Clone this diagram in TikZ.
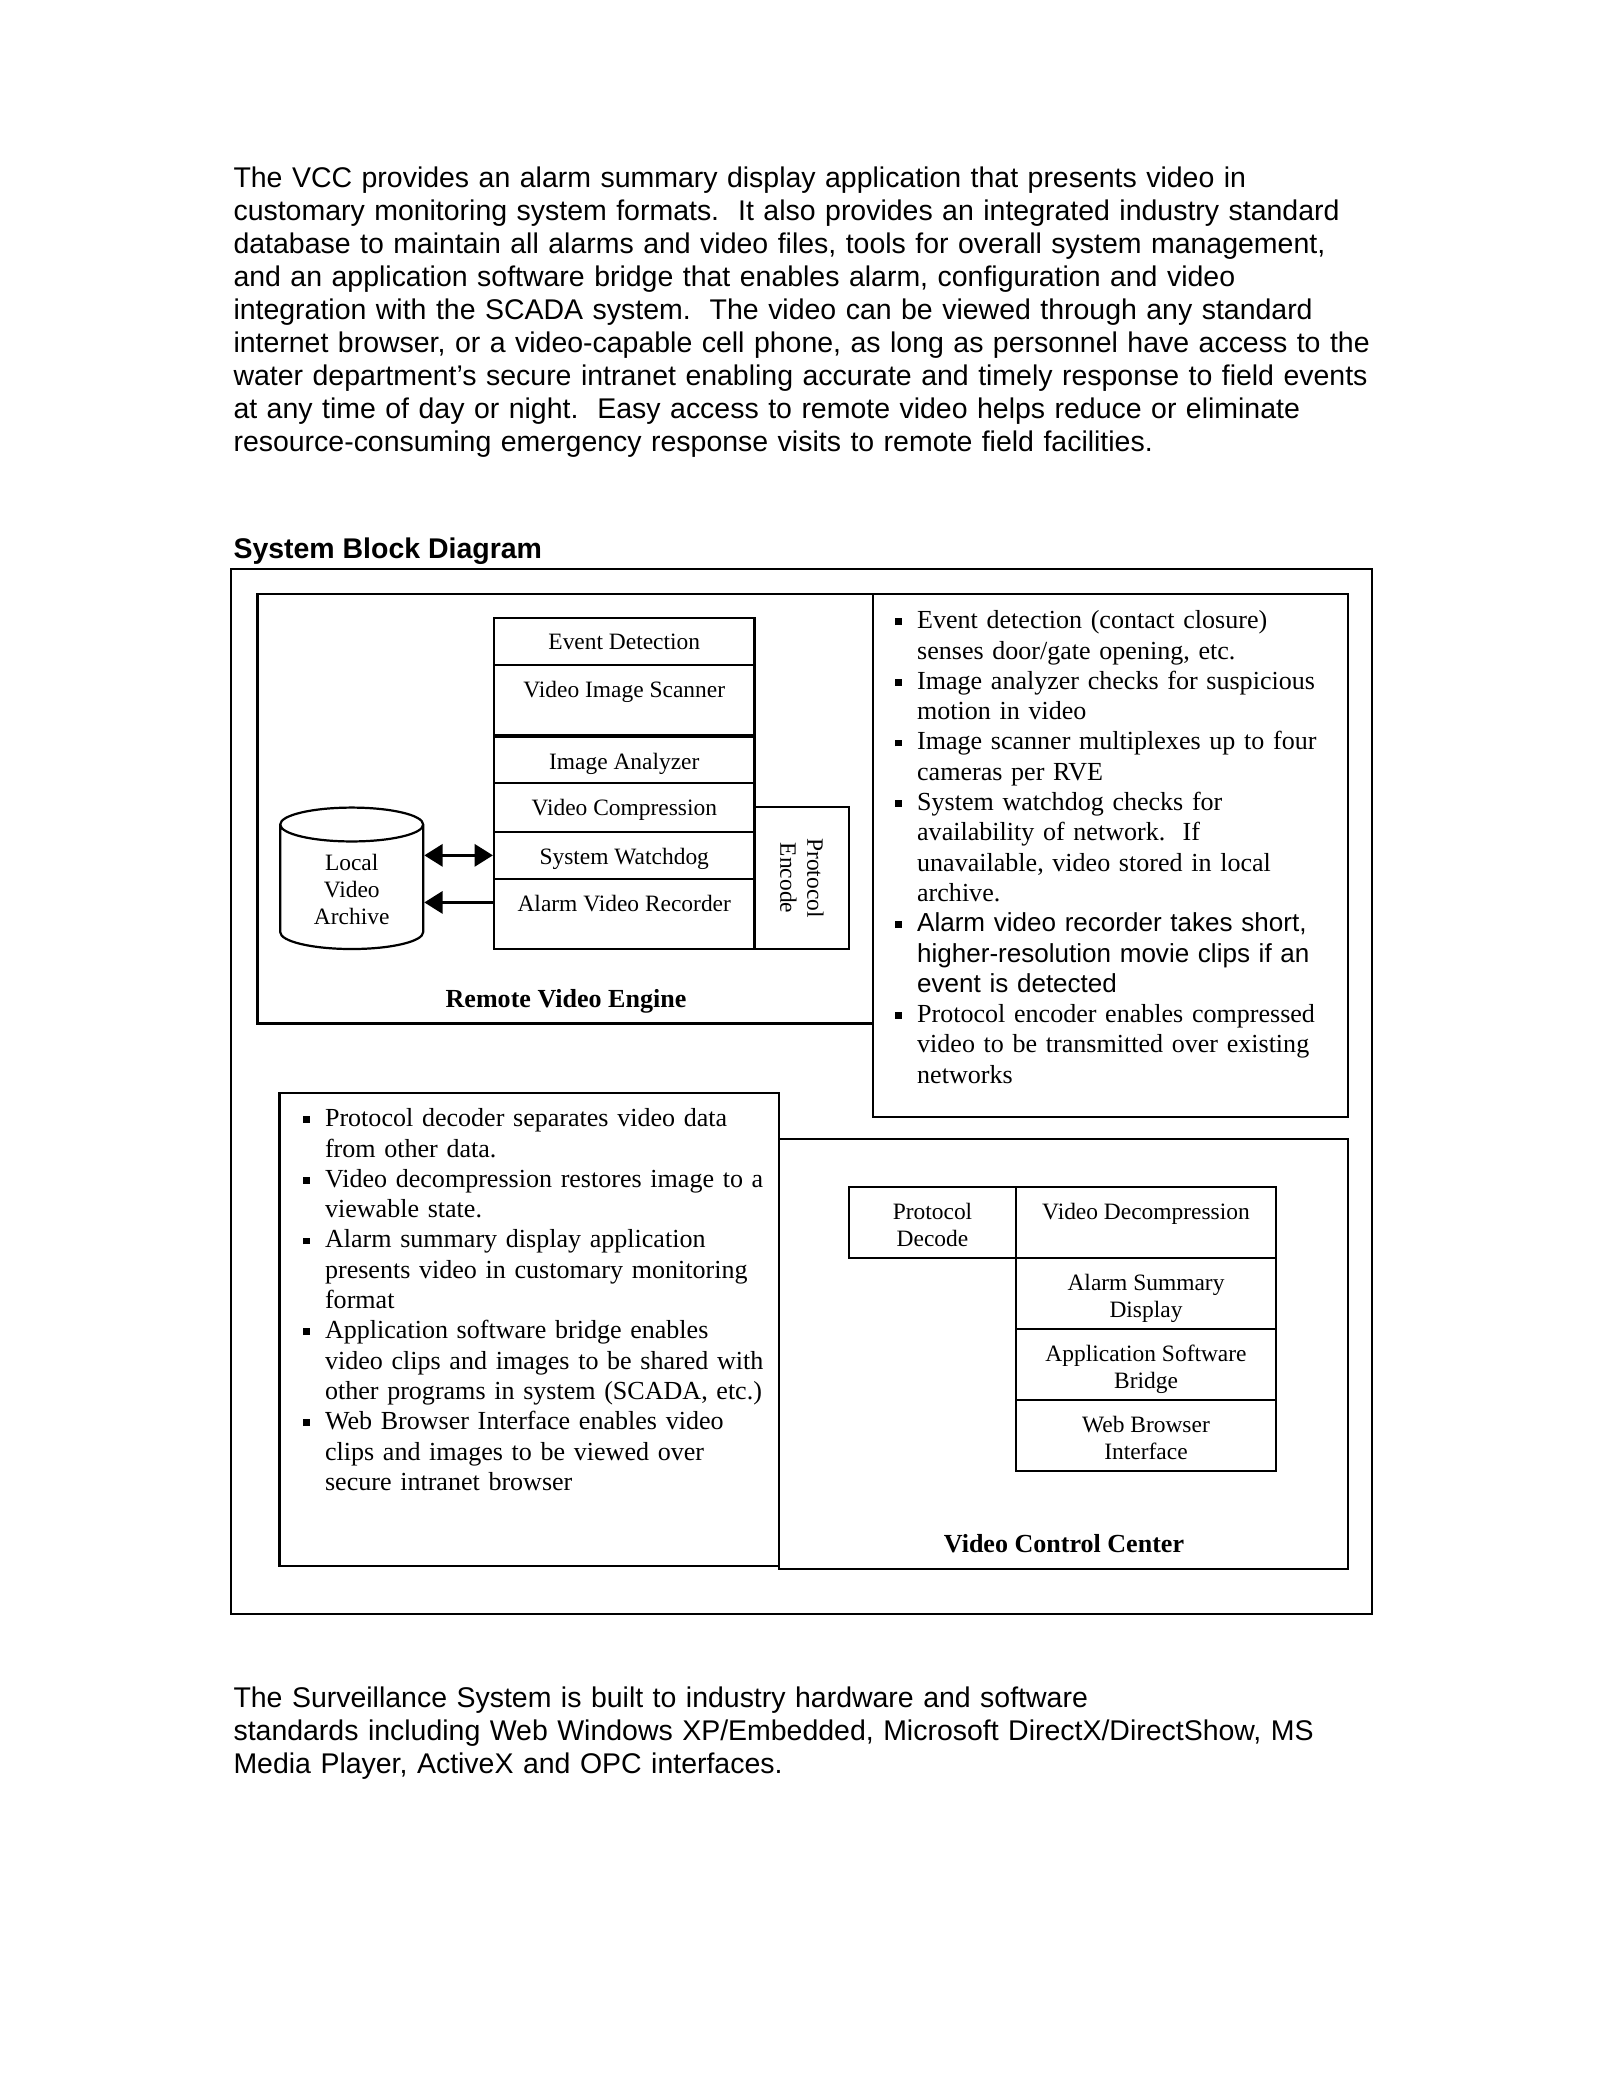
\documentclass[tikz,border=0pt]{standalone}
\usepackage{fontspec}
\setmainfont{Liberation Serif}
\setsansfont{Liberation Sans}
\usetikzlibrary{arrows.meta, positioning, shapes.geometric, fit}
\definecolor{inkBlack}{HTML}{000000}
\frenchspacing
\newcommand{\sqbul}{\strut\rule[1.4pt]{2.6pt}{2.6pt}}
\newenvironment{notelist}{%
  \begin{list}{\sqbul}{\setlength{\leftmargin}{8.5pt}\setlength{\labelwidth}{2.6pt}%
    \setlength{\labelsep}{5.8pt}\setlength{\topsep}{0pt}\setlength{\partopsep}{0pt}%
    \setlength{\itemsep}{0pt}\setlength{\parsep}{0pt}}}%
  {\end{list}}
\tikzset{
  blk/.style={draw=inkBlack, line width=0.85pt, inner sep=0pt},
  sysbox/.style={draw=inkBlack, line width=1.1pt, inner sep=0pt},
  lbl/.style={font=\fontsize{9}{10.4}\selectfont, align=center, inner sep=0pt,
              anchor=north, yshift=-6.5pt},
  ttl/.style={font=\bfseries\fontsize{10}{12}\selectfont, inner sep=0pt},
  notes/.style={font=\fontsize{10}{11.63}\selectfont, text width=180pt,
                inner sep=0pt, anchor=north west},
  para/.style={font=\sffamily\fontsize{10.93}{12.65}\selectfont, text width=470pt,
               inner sep=0pt, anchor=north west},
  drum/.style={cylinder, shape border rotate=90, aspect=0.325, draw=inkBlack,
               line width=0.85pt, minimum width=54.9pt, minimum height=54.3pt,
               inner sep=20pt, anchor=shape center},
  arrowB/.style={-{Triangle[length=7pt, width=8.5pt]}, line width=1pt},
  arrowBB/.style={{Triangle[length=7pt, width=8.5pt]}-{Triangle[length=7pt, width=8.5pt]},
                  line width=1pt},
}
\begin{document}
\begin{tikzpicture}[x=0.38393pt, y=-0.38393pt]
    \path[use as bounding box, fill=white] (0,0) rectangle (1600,2076);

    % page text
    \node[para] (intro) at (233,164) {\noindent\strut The VCC provides an alarm summary display application that presents video in\newline
      customary monitoring system formats.~ It also provides an integrated industry standard\newline
      database to maintain all alarms and video files, tools for overall system management,\newline
      and an application software bridge that enables alarm, configuration and video\newline
      integration with the SCADA system.~ The video can be viewed through any standard\newline
      internet browser, or a video-capable cell phone, as long as personnel have access to the\newline
      water department's secure intranet enabling accurate and timely response to field events\newline
      at any time of day or night.~ Easy access to remote video helps reduce or eliminate\newline
      resource-consuming emergency response visits to remote field facilities.};
    \node[font=\sffamily\bfseries\fontsize{10.93}{12.65}\selectfont, inner sep=0pt, anchor=west]
      (blocktitle) at (233,551) {System Block Diagram};

    \node[sysbox, fit={(231,569) (1372,1614)}] (sysframe) {};

    % remote video engine
    \node[blk, fit={(257.5,594.3) (873,1023.5)}] (rve) {};
    \node[blk, fit={(494,617.7) (754.5,665)}, label={[lbl]north:Event Detection}] (evdet) {};
    \node[blk, fit={(494,665) (754.5,735)}, label={[lbl]north:Video Image Scanner}] (scanner) {};
    \node[blk, fit={(494,737.3) (754.5,783.3)}, label={[lbl]north:Image Analyzer}] (analyzer) {};
    \node[blk, fit={(494,783.3) (754.5,831.7)}, label={[lbl]north:Video Compression}] (compress) {};
    \node[blk, fit={(494,831.7) (754.5,879)}, label={[lbl]north:System Watchdog}] (watchdog) {};
    \node[blk, fit={(494,879) (754.5,949.3)}, label={[lbl]north:Alarm Video Recorder}] (recorder) {};
    \node[blk, fit={(754.5,806.7) (849.2,949.3)}] (encode) {};
    \node[font=\fontsize{9}{10.4}\selectfont, align=center, inner sep=0pt, rotate=-90]
      (encodetxt) at (encode.center) {Protocol\\Encode};
    \node[drum] (archive) at (351.7,878.3) {};
    \node[font=\fontsize{9}{10.4}\selectfont, align=center, inner sep=0pt]
      (archivetxt) at (351.7,889.5) {Local\\Video\\Archive};
    \draw[arrowBB] (watchdog.west) -- (watchdog.west -| archive.east);
    \draw[arrowB] ([yshift=4.5pt]recorder.west) -- ([yshift=4.5pt]recorder.west -| archive.east);
    \node[ttl] (rvetitle) at (566,1001.5) {Remote Video Engine};

    % notes on the engine
    \node[blk, fit={(873,594.3) (1348,1116.6)}] (rvebox) {};
    \node[notes] (rvenotes) at (894.5,598) {\begin{notelist}
      \item Event detection (contact closure)\newline senses door/gate opening, etc.
      \item Image analyzer checks for suspicious\newline motion in video
      \item Image scanner multiplexes up to four\newline cameras per RVE
      \item System watchdog checks for\newline availability of network.~ If\newline
            unavailable, video stored in local\newline archive.
      \item {\sffamily Alarm video recorder takes short,\newline higher-resolution movie clips if an\newline
            event is detected}
      \item Protocol encoder enables compressed\newline video to be transmitted over existing\newline networks
    \end{notelist}};

    % notes on the control center
    \node[blk, fit={(279.5,1092.7) (778.8,1565.6)}] (vccbox) {};
    \node[notes] (vccnotes) at (302.4,1096) {\begin{notelist}
      \item Protocol decoder separates video data\newline from other data.
      \item Video decompression restores image to a\newline viewable state.
      \item Alarm summary display application\newline presents video in customary monitoring\newline format
      \item Application software bridge enables\newline video clips and images to be shared with\newline
            other programs in system (SCADA, etc.)
      \item Web Browser Interface enables video\newline clips and images to be viewed over\newline
            secure intranet browser
    \end{notelist}};

    % video control center
    \node[blk, fit={(778.8,1139) (1348,1569.3)}] (vcc) {};
    \node[blk, fit={(849,1186.7) (1016,1257.7)}, label={[lbl]north:Protocol\\Decode}] (pdecode) {};
    \node[blk, fit={(1016,1186.7) (1276,1257.7)}, label={[lbl]north:Video Decompression}] (decomp) {};
    \node[blk, fit={(1016,1257.7) (1276,1329)}, label={[lbl]north:Alarm Summary\\Display}] (alarmsum) {};
    \node[blk, fit={(1016,1329) (1276,1400)}, label={[lbl]north:Application Software\\Bridge}] (bridge) {};
    \node[blk, fit={(1016,1400) (1276,1471)}, label={[lbl]north:Web Browser\\Interface}] (webui) {};
    \node[ttl] (vcctitle) at (1064,1544) {Video Control Center};

    \node[para] (outro) at (233,1684) {\noindent\strut The Surveillance System is built to industry hardware and software\newline
      standards including Web Windows XP/Embedded, Microsoft DirectX/DirectShow, MS\newline
      Media Player, ActiveX and OPC interfaces.};
\end{tikzpicture}
\end{document}
